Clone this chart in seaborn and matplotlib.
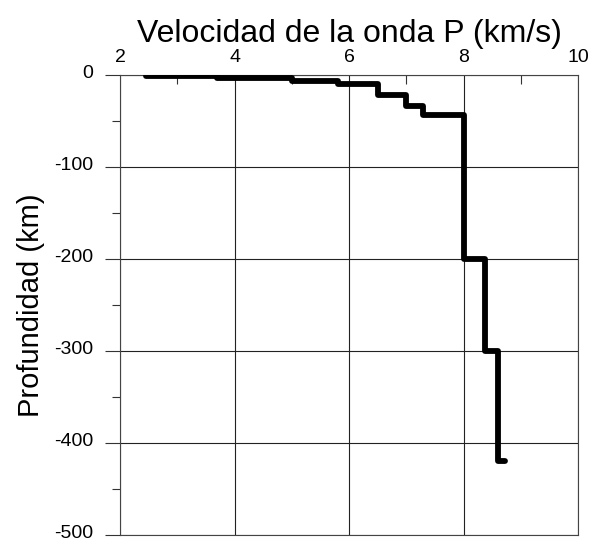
import matplotlib
matplotlib.use("Agg")
import matplotlib.pyplot as plt
import matplotlib.transforms as mtransforms
import seaborn as sns
import pandas as pd
import numpy as np

# Data (step velocity profile)
velocity = [2.45, 3.7, 5.0, 5.8, 6.5, 7.0, 7.3, 8.0, 8.37, 8.6, 8.72]
depth = [-1.5, -3, -7, -10, -22, -34, -43, -200, -300, -420, -420]
x_ticks = [2, 4, 6, 8, 10]
y_ticks = [-500, -400, -300, -200, -100, 0]
x_label = "Velocidad de la onda P (km/s)"
y_label = "Profundidad (km)"

sns.set_theme(style="white")
plt.rcParams["font.family"] = ["Liberation Sans", "DejaVu Sans"]

df = pd.DataFrame({"v": velocity, "z": depth})

fig = plt.figure(figsize=(5.98, 5.40), dpi=100)
ax = fig.add_axes([120 / 598, 1 - 535 / 540, 458 / 598, 460 / 540])

sns.lineplot(data=df, x="v", y="z", ax=ax, sort=False, estimator=None,
             drawstyle="steps-post", color="black", linewidth=4.2,
             solid_joinstyle="round", solid_capstyle="round", zorder=5)

ax.set_xlim(2, 10)
ax.set_ylim(-500, 0)
ax.set_xticks(x_ticks)
ax.set_xticklabels([str(t) for t in x_ticks])
ax.set_yticks(y_ticks)
ax.set_yticklabels([str(t) for t in y_ticks])
ax.set_xticks([3, 5, 7, 9], minor=True)
ax.set_yticks(list(np.arange(-450, 0, 100)), minor=True)

ax.xaxis.tick_top()
ax.xaxis.set_label_position("top")
ax.tick_params(axis="x", which="major", length=0, pad=6.5, labelsize=14,
               colors="black")
ax.tick_params(axis="x", which="minor", direction="in", length=6.5,
               width=0.8, color="#333333", top=True, bottom=False)
ax.tick_params(axis="y", which="major", direction="out", length=10.8,
               width=0.8, pad=8.6, labelsize=14, color="#333333",
               labelcolor="black", left=True)
ax.tick_params(axis="y", which="minor", direction="out", length=5.5,
               width=0.8, color="#333333", left=True)

shift = mtransforms.ScaledTranslation(0, 3.5 / 100, fig.dpi_scale_trans)
for lbl in ax.get_yticklabels():
    lbl.set_transform(lbl.get_transform() + shift)

ax.grid(True, which="major", color="#222222", linewidth=0.8)
for s in ax.spines.values():
    s.set_visible(True)
    s.set_color("#444444")
    s.set_linewidth(0.8)

ax.set_xlabel(x_label, fontsize=23, labelpad=5, color="black")
ax.set_ylabel(y_label, fontsize=21, labelpad=6, color="black")

fig.savefig("out.png", dpi=100)
